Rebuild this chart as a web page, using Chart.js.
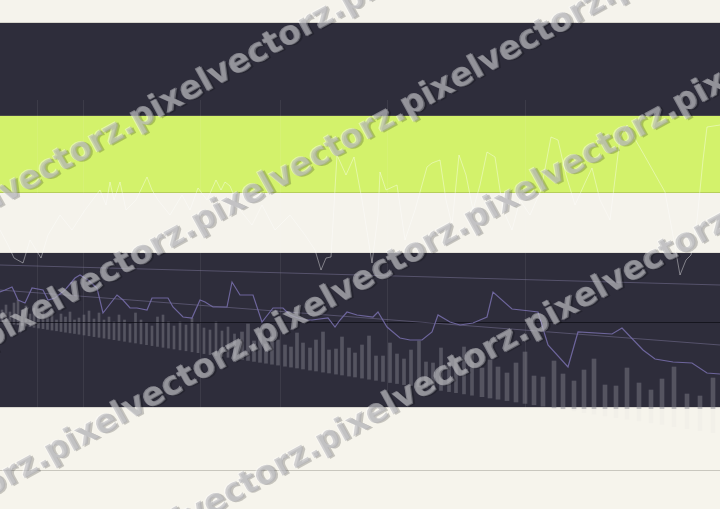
<!DOCTYPE html>
<html><head><meta charset="utf-8">
<script src="https://cdn.jsdelivr.net/npm/chart.js@4"></script>
<style>html,body{margin:0;padding:0;background:#f5f3ec;overflow:hidden}canvas{display:block}</style>
</head><body>
<canvas id="c" width="720" height="509"></canvas>
<script>
// ---------- data (x in horizontal units, y in depth units from top) ----------
const whiteX = [0,8,14,23,30,41,48,60,72,85,100,106,110,114,120,126,136,147,152,158,170,182,190,198,207,216,221,225,230,240,252,262,275,290,305,315,321,326,331,337,346,354,362,372,378,380,386,397,405,415,427,432,440,446,452,459,466,473,480,487,495,503,512,520,530,541,551,558,566,575,584,592,600,610,620,627,647,665,672,680,686,691,697,703,707,720];
const whiteY = [230,245,258,263,240,258,235,215,230,210,190,205,182,200,182,210,200,177,190,200,215,195,210,188,200,180,190,182,186,210,225,205,230,215,235,250,270,258,257,155,175,157,200,263,215,172,190,185,240,210,167,163,160,200,225,155,175,210,185,152,157,210,230,200,215,190,137,140,175,205,185,168,200,220,138,125,160,192,230,275,260,255,220,160,127,125];

const purpleX = [0,5,12,14,18,25,32,43,48,55,65,75,80,88,97,103,117,123,130,137,147,152,168,173,183,192,200,205,213,227,232,240,253,262,273,283,290,298,307,312,328,335,340,347,357,373,378,387,400,410,422,432,438,450,460,473,480,487,493,512,530,538,548,568,578,612,622,643,655,673,692,707,720];
const purpleY = [292,290,287,291,300,303,288,290,300,298,290,278,275,280,288,313,295,300,308,308,310,298,298,307,317,318,300,302,307,307,282,295,295,322,308,308,315,318,320,320,318,327,320,312,315,317,312,327,338,340,340,332,315,322,325,323,320,317,292,309,311,312,345,367,332,334,328,350,359,362,363,373,374];

const trendUpperX = [0,720], trendUpperY = [265,285];
const trendLowerX = [0,720], trendLowerY = [290,345];
const levelX = [0,720], levelY = [322.5,322.5];

const barX = [2,6,10,14,18,22,26,30,34,38.5,43,47.5,52,56.5,61,65.5,70,74.5,79,84,89,94,99,104,109,114,119,124.5,130,135.5,141,146.5,152,157.5,163,168.5,174,180,186,192,198,204,210,216,222,228,234.5,
  242,248,254,260,266,272,278,285,291,297,303,310,316,323,329,336,342,349,355,362,369,376,383,390,397,404,411,419,426,433,441,449,456,464,472,
  482,490,498,507,516,525,534,543,554,563,574,584,594,605,616,627,639,651,662,674,687,700,713];
const barTop = [310,305,312,303,300,310,306,314,308,316,310,318,313,320,314,317,312,320,318,315,311,319,313,320,317,322,315,320,324,313,320,323,326,317,315,322,326,322,325,318,324,328,330,322,331,327,334,
  332,324,341,333,344,337,340,345,347,333,343,348,340,332,350,349,337,348,353,345,336,356,356,343,354,359,350,341,362,363,348,363,358,347,350,
  368,360,367,373,363,352,376,377,361,374,381,370,359,385,386,368,383,390,379,367,394,396,378];
const barBottom = [322.3,322.9,323.6,324.2,324.8,325.4,326.0,326.7,327.3,328.0,328.7,329.4,330.1,330.8,331.5,332.2,332.9,333.5,334.2,335.0,335.8,336.6,337.3,338.1,338.9,339.7,340.4,341.3,342.2,343.0,343.9,344.7,345.6,346.4,347.3,348.1,349.0,349.9,350.8,351.8,352.7,353.6,354.6,355.5,356.4,357.3,358.3,
  359.5,360.4,361.4,362.3,363.2,364.2,365.1,366.2,367.1,368.0,369.0,370.1,371.0,372.1,373.0,374.1,375.0,376.1,377.0,378.1,379.2,380.3,381.4,382.5,383.5,384.6,385.7,386.9,388.0,389.1,390.4,391.6,392.7,393.9,395.2,
  396.7,398.0,399.2,400.6,402.0,403.4,404.8,406.2,407.9,409.3,411.0,412.5,414.1,415.8,417.5,419.2,421.0,422.9,424.6,426.5,428.5,430.5,432.5];

const gridX = [37,83,200,280,387,525];
const watermarkText = 'pixelvectorz.';

// ---------- styling / layout ----------
const CREAM = '#f5f3ec', DARK = '#2e2d3b', LIME = '#d3f26b';
const bands = [
  {from:23, to:115.5, color:DARK},
  {from:115.5, to:192.5, color:LIME},
  {from:253, to:408, color:DARK}
];
const edges = [
  {at:23, color:'#d6d4cc'},
  {at:115.5, color:'#4a4a48'},
  {at:192.5, color:'#b6cf5a'},
  {at:253, color:'#e4e2da'},
  {at:408, color:'#d8d6cf'}
];
const wmRows = [[133,123],[404,110],[257,340],[528,330]];

const pts = (xs, ys) => xs.map((v,i)=>({x:v, y:ys[i]}));
const barsIn = (lo, hi) => barX.map((v,i)=>({x:v, y:[barBottom[i], barTop[i]]})).filter(p=>p.x>=lo && p.x<hi);

const lineDs = (data, color, w, order) => ({type:'line', data, borderColor:color, borderWidth:w, pointRadius:0, tension:0, fill:false, order});
const barDs = (data, thick) => ({type:'bar', data, backgroundColor:'rgba(132,132,142,0.45)', borderWidth:0, barThickness:thick, grouped:false, order:10});

const bandPlugin = {
  id:'bands',
  beforeDatasetsDraw(chart){
    const {ctx, chartArea:a, scales:{x,y}} = chart;
    ctx.save();
    bands.forEach(b=>{
      const y1 = y.getPixelForValue(b.from), y2 = y.getPixelForValue(b.to);
      ctx.fillStyle = b.color; ctx.fillRect(a.left, y1, a.right-a.left, y2-y1);
    });
    edges.forEach(e=>{
      const py = Math.round(y.getPixelForValue(e.at))-0.5;
      ctx.strokeStyle = e.color; ctx.lineWidth = 1;
      ctx.beginPath(); ctx.moveTo(a.left, py); ctx.lineTo(a.right, py); ctx.stroke();
    });
    gridX.forEach(v=>{
      const px = Math.round(x.getPixelForValue(v))+0.5;
      ctx.strokeStyle = 'rgba(255,255,255,0.07)';
      ctx.beginPath(); ctx.moveTo(px, y.getPixelForValue(100)); ctx.lineTo(px, y.getPixelForValue(408)); ctx.stroke();
    });
    ctx.restore();
  },
  afterDatasetsDraw(chart){
    const {ctx, chartArea:a, scales:{y}} = chart;
    ctx.save();
    const y1 = Math.round(y.getPixelForValue(408.5));
    ctx.fillStyle = 'rgba(245,243,236,0.93)';
    ctx.fillRect(a.left, y1, a.right-a.left, a.bottom-y1);
    const py = Math.round(y.getPixelForValue(470))+0.5;
    ctx.strokeStyle = '#c9c7be'; ctx.lineWidth = 1;
    ctx.beginPath(); ctx.moveTo(a.left, py); ctx.lineTo(a.right, py); ctx.stroke();
    ctx.restore();
  },
  afterDraw(chart){
    const {ctx, scales:{x,y}} = chart;
    ctx.save();
    ctx.font = 'bold 33px "DejaVu Sans"';
    ctx.textBaseline = 'middle';
    const w = ctx.measureText(watermarkText).width;
    const ang = Math.atan(-0.554);
    const s = watermarkText.repeat(10);
    wmRows.forEach(([sx,sy])=>{
      ctx.save();
      ctx.translate(x.getPixelForValue(sx), y.getPixelForValue(sy));
      ctx.rotate(ang);
      const x0 = -5*w;
      ctx.fillStyle = 'rgba(0,0,0,0.2)'; ctx.fillText(s, x0+1.5, 1.5);
      ctx.fillStyle = 'rgba(255,255,255,0.4)'; ctx.fillText(s, x0-1, -1);
      ctx.fillStyle = 'rgba(170,170,176,0.5)'; ctx.fillText(s, x0, 0);
      ctx.restore();
    });
    ctx.restore();
  }
};

new Chart(document.getElementById('c'), {
  type:'bar',
  data:{datasets:[
    barDs(barsIn(0,240), 2),
    barDs(barsIn(240,478), 3),
    barDs(barsIn(478,800), 4),
    lineDs(pts(levelX, levelY), 'rgba(14,14,22,0.75)', 1, 5),
    lineDs(pts(trendUpperX, trendUpperY), 'rgba(125,120,155,0.5)', 1, 4),
    lineDs(pts(trendLowerX, trendLowerY), 'rgba(125,120,155,0.5)', 1, 4),
    lineDs(pts(purpleX, purpleY), 'rgba(116,108,166,0.9)', 1.2, 2),
    lineDs(pts(whiteX, whiteY), 'rgba(255,255,255,0.4)', 1, 1)
  ]},
  options:{
    responsive:false, animation:false, devicePixelRatio:1,
    layout:{padding:0},
    plugins:{legend:{display:false}, tooltip:{enabled:false}},
    scales:{
      x:{type:'linear', min:0, max:720, offset:false, display:false},
      y:{type:'linear', min:0, max:509, reverse:true, display:false}
    }
  },
  plugins:[bandPlugin]
});
</script>
</body></html>
